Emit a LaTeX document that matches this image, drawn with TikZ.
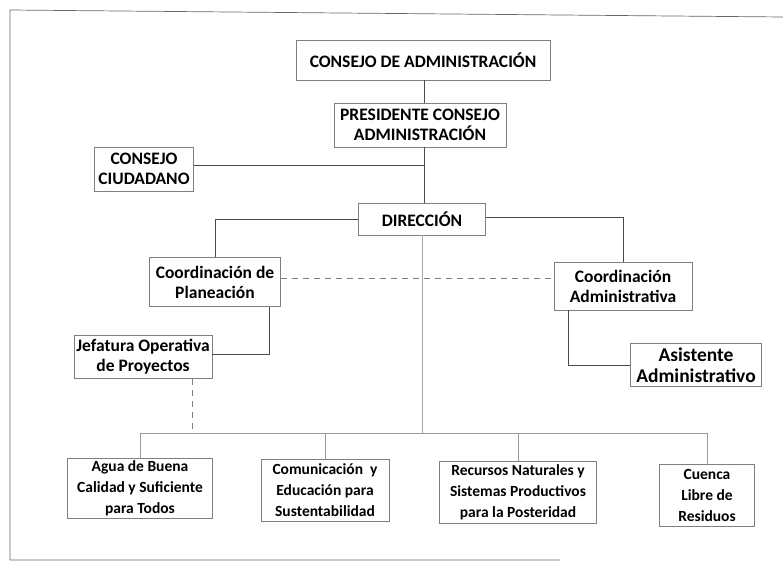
\documentclass[tikz,border=0pt]{standalone}
\usepackage{fontspec}
\setmainfont{Carlito}
\usetikzlibrary{positioning}

\begin{document}
\begin{tikzpicture}[x=1pt,y=-1pt]
  \tikzstyle{box}=[draw=black!50,line width=0.8pt,align=center,inner xsep=1pt,inner ysep=2pt,font=\bfseries\fontsize{17.5}{20}\selectfont]
  \tikzstyle{tema}=[box,font=\bfseries\fontsize{15.5}{21}\selectfont]
  \tikzstyle{con}=[draw=black!70,line width=0.8pt]
  \tikzstyle{guia}=[draw=black!50,line width=0.8pt,dash pattern=on 6pt off 5pt]
  \useasboundingbox (0,0) rectangle (783,571);
  % marco
  \draw[black!60,line width=0.7pt] (783,17) -- (10,10) -- (10,560) -- (560,560);
  \node[box,minimum width=254,minimum height=40] (consejo) at (423,60) {CONSEJO DE ADMINISTRACI\'ON};
  \node[box,minimum width=172,minimum height=44] (presi) at (420,125) {PRESIDENTE CONSEJO\\ADMINISTRACI\'ON};
  \node[box,minimum width=99,minimum height=44] (ciud) at (144,169) {CONSEJO\\CIUDADANO};
  \node[box,minimum width=127,minimum height=32] (dir) at (422,219) {DIRECCI\'ON};
  \node[box,minimum width=131,minimum height=49] (plan) at (215,282) {Coordinaci\'on de\\Planeaci\'on};
  \node[box,minimum width=138,minimum height=48] (admin) at (623,286) {Coordinaci\'on\\Administrativa};
  \node[box,minimum width=138,minimum height=43] (jef) at (143,357) {Jefatura Operativa\\de Proyectos};
  \node[box,minimum width=131,minimum height=43,font=\bfseries\fontsize{19.5}{21}\selectfont] (asis) at (696,365) {Asistente\\Administrativo};
  \node[tema,minimum width=145,minimum height=60] (agua) at (140,488) {Agua de Buena\\Calidad y Suficiente\\para Todos};
  \node[tema,minimum width=128,minimum height=62] (comu) at (325,490) {Comunicaci\'on\ \ y\\Educaci\'on para\\Sustentabilidad};
  \node[tema,minimum width=157,minimum height=62] (recu) at (518,492) {Recursos Naturales y\\Sistemas Productivos\\para la Posteridad};
  \node[tema,minimum width=95,minimum height=62] (cuen) at (707,495) {Cuenca\\Libre de\\Residuos};
  \coordinate (tronco) at ([xshift=4pt]presi.south);
  \coordinate (bus) at (422,433);
  % tronco
  \draw[con] ([xshift=1pt]consejo.south) -- ([xshift=1pt]consejo.south |- presi.north);
  \draw[con] (tronco) -- (tronco |- dir.north);
  \draw[con] ([yshift=4pt]ciud.east) -- ([yshift=4pt]ciud.east -| tronco);
  \draw[con] (dir.west) -| (plan.north);
  \draw[con] ([yshift=2pt]dir.east) -| (admin.north);
  \draw[guia] ([yshift=4pt]plan.east) -- ([yshift=4pt]plan.east -| admin.west);
  \draw[con] ([xshift=-12pt]plan.south east) |- ([yshift=3pt]jef.east);
  \draw[con] ([xshift=15pt]admin.south west) |- (asis.west);
  \draw[guia] ([xshift=-20pt]jef.south east) -- ([xshift=-20pt]jef.south east |- bus);
  \draw[black!35,line width=0.7pt] (dir.south) -- (bus);
  \draw[black!40,line width=0.8pt] (agua.north |- bus) -- (cuen.north |- bus);
  \foreach \n in {agua,comu,recu,cuen}
    \draw[black!40,line width=0.8pt] (\n.north |- bus) -- (\n.north);
\end{tikzpicture}
\end{document}
